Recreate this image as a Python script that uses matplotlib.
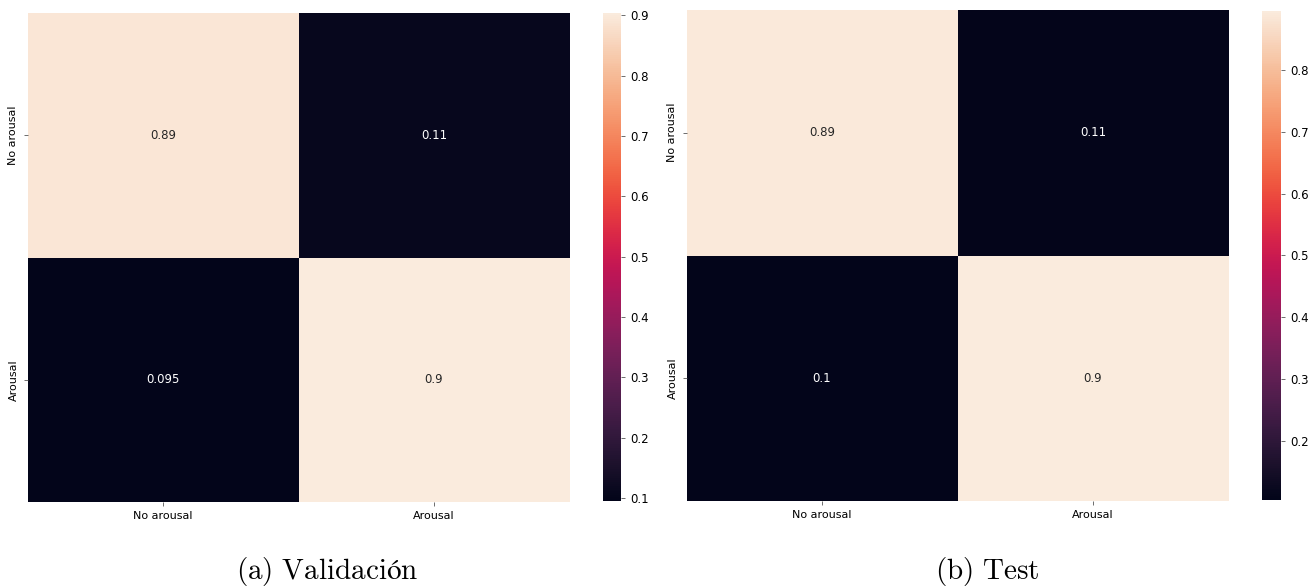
import matplotlib
matplotlib.use("Agg")
import matplotlib.pyplot as plt
import numpy as np
import seaborn as sns

plt.rcParams["mathtext.fontset"] = "cm"
plt.rcParams["font.family"] = ["DejaVu Sans"]

# Normalised confusion matrices (rows: true class, cols: predicted class)
class_labels = ["No arousal", "Arousal"]
validation_matrix = [[0.892, 0.108],
                     [0.095, 0.904]]
test_matrix = [[0.892, 0.108],
               [0.104, 0.896]]
captions = [r"$\mathrm{(a)\ Validaci}\mathrm{ó}\mathrm{n}$", r"$\mathrm{(b)\ Test}$"]

fig = plt.figure(figsize=(13.14, 5.88), dpi=100)

W, H = 1314.0, 588.0


def box(x0, y0, x1, y1):
    return [x0 / W, 1 - y1 / H, (x1 - x0) / W, (y1 - y0) / H]


panels = [
    (validation_matrix, box(27.5, 13, 569.5, 502), box(603, 13, 621, 501), 327),
    (test_matrix, box(686.5, 10, 1228.5, 501), box(1262, 11, 1281, 500), 987),
]

for (matrix, ax_box, cb_box, cap_x), caption in zip(panels, captions):
    ax = fig.add_axes(ax_box)
    cax = fig.add_axes(cb_box)
    sns.heatmap(np.array(matrix), annot=True, fmt=".2g", cmap="rocket",
                ax=ax, cbar_ax=cax, annot_kws={"size": 8.5},
                xticklabels=class_labels, yticklabels=class_labels)
    ax.tick_params(axis="both", labelsize=8, length=3, width=0.6, color="#555555")
    ax.set_yticklabels(class_labels, rotation=90, va="center")
    ax.set_xticklabels(class_labels, rotation=0)
    cax.tick_params(labelsize=8.5, length=3, width=0.6, color="#555555")
    fig.text(cap_x / W, 1 - 571 / H, caption, ha="center", va="center", fontsize=21)

fig.savefig("out.png", dpi=100)
